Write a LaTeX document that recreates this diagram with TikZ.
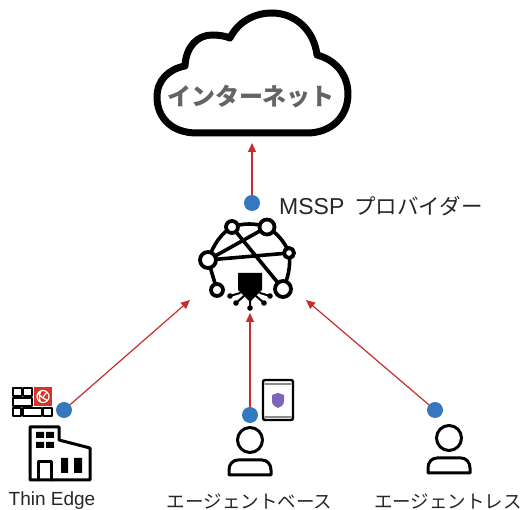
\documentclass[tikz,border=0pt]{standalone}
\usepackage{fontspec}
\setmainfont{Noto Sans CJK JP}
\newfontfamily\latinfont{Liberation Sans}
\usetikzlibrary{arrows.meta}
\definecolor{dotblue}{RGB}{52,120,192}
\definecolor{arrowred}{RGB}{200,44,44}
\definecolor{chipred}{RGB}{214,52,40}
\definecolor{textgray}{RGB}{100,100,100}
\definecolor{shieldpurple}{RGB}{128,98,184}
\tikzset{
	bluedot/.style={circle,fill=dotblue,minimum size=16pt,inner sep=0pt},
	redarrow/.style={draw=arrowred,line width=1.2pt,-{Triangle[length=9pt,width=8pt]}},
	hub/.style={circle,draw=black,line width=3.8pt,fill=white,inner sep=0pt},
	icon/.style={line width=3pt,line join=round,line cap=round},
	tag/.style={inner sep=0pt,font=\fontsize{18.5}{21}\selectfont,text=black!85},
	thinbox/.style={draw=black,line width=1.2pt,fill=white}
}
\newcommand{\personicon}[2]{
	\draw[icon] (#1,#2) circle (12.5);
	\draw[icon] (#1-21,#2+35) -- ++(0,-5) .. controls (#1-21,#2+24) and (#1-17,#2+20) .. (#1-12,#2+20) -- (#1+12,#2+20) .. controls (#1+17,#2+20) and (#1+21,#2+24) .. (#1+21,#2+30) -- (#1+21,#2+35) -- cycle;
}
\begin{document}
\begin{tikzpicture}[x=1pt,y=-1pt,line join=round,line cap=round]
	\useasboundingbox (0,0) rectangle (523,510);
	% cloud
	\draw[line width=7pt,fill=white] (197,133) .. controls (172,133) and (157,118) .. (157,97) .. controls (157,80) and (169,69) .. (185,66) .. controls (186,46) and (198,35) .. (212,35) .. controls (219,35) and (225,36) .. (230,38) .. controls (238,22) and (254,13) .. (272,13) .. controls (295,13) and (314,30) .. (317,55) .. controls (336,60) and (348,75) .. (348,94) .. controls (348,117) and (331,133) .. (307,133) -- cycle;
	\node[inner sep=0pt,text=textgray,font=\bfseries\fontsize{24}{26}\selectfont] (inet) at (251,97) {インターネット};
	% network
	\draw[line width=3.6pt] (208,260) .. controls (214,243) and (222,233) .. (232,227) (232,227) .. controls (243,223) and (255,223) .. (267,227) (208,260) -- (267,227) (232,227) -- (283,289) (208,260) -- (289,253) (267,227) .. controls (277,233) and (285,242) .. (289,253) (289,253) .. controls (291,266) and (288,278) .. (283,289) (208,260) -- (217,290);
	\node[hub,minimum size=12pt] (n1) at (232,227) {};
	\node[hub,minimum size=15pt] (n2) at (267,227) {};
	\node[hub,minimum size=10pt] (n3) at (289,253) {};
	\node[hub,minimum size=16pt] (n4) at (208,260) {};
	\node[hub,minimum size=12pt] (n5) at (217,290) {};
	\node[hub,minimum size=16pt] (n6) at (283,289) {};
	\fill (238,273) -- (262,273) -- (262,290) -- (250,302) -- (238,290) -- cycle;
	\draw[line width=2pt] (230,296) -- (240,293) (236,303) -- (244,296) (250,300) -- (250,308) (264,303) -- (256,296) (270,296) -- (260,293);
	\foreach \x/\y in {230/296,236/303,250/308,264/303,270/296}
		\fill (\x,\y) circle (2.8);
	% building
	\draw[icon] (30,427) -- (59,427) -- (59,440) -- (90,448) -- (90,480) -- (30,480) -- cycle;
	\draw[icon] (38,480) -- (38,462) -- (51,462) -- (51,480);
	\fill (36,432) rectangle (44,438) (46,432) rectangle (54,438) (36,442) rectangle (44,448) (46,442) rectangle (54,448) (61,458) rectangle (68,473) (74,458) rectangle (82,473);
	% appliance
	\draw[thinbox] (13,388) rectangle (22,396) (23.5,388) rectangle (32,396) (13,398) rectangle (32,406) (13,408) rectangle (21,416) (23,408) rectangle (41.5,416) (43,408) rectangle (52,416);
	\fill[chipred] (34,387) rectangle (52,406);
	\draw[white,line width=1.2pt] (43,396.5) circle (6) (38,393) .. controls (41,397) and (44,399) .. (47,400) (41,391) .. controls (39,395) and (39,398) .. (40,401) (47,392) .. controls (45,394) and (44,396) .. (43,398);
	% tablet
	\draw[line width=2.4pt,rounded corners=2pt] (263,380) rectangle (293,420);
	\draw[black!45,line width=2pt] (265,384) -- (291,384) (265,417) -- (291,417);
	\fill[shieldpurple] (272,395) -- (278,393) -- (284,395) -- (284,401) .. controls (284,405) and (281,407) .. (278,408) .. controls (275,407) and (272,405) .. (272,401) -- cycle;
	% users
	\personicon{250}{440}
	\personicon{449}{438}
	% dots and arrows
	\node[bluedot] (mssp) at (252,203) {};
	\node[bluedot] (edge) at (64,410) {};
	\node[bluedot] (agent) at (250,415) {};
	\node[bluedot] (agentless) at (435,410) {};
	\coordinate (inettip) at (252,143);
	\coordinate (edgetip) at (190,300);
	\coordinate (agenttip) at (250,313);
	\coordinate (lesstip) at (306,300);
	\draw[redarrow] (mssp) -- (inettip);
	\draw[redarrow] (edge) -- (edgetip);
	\draw[redarrow] (agent) -- (agenttip);
	\draw[redarrow] (agentless) -- (lesstip);
	% labels
	\node[tag,anchor=west] (msspname) at (279,206) {{\latinfont\fontsize{23}{25}\selectfont MSSP}\hspace{10pt}\fontsize{21.5}{23}\selectfont プロバイダー};
	\node[tag,font=\latinfont\fontsize{19}{21}\selectfont] (edgename) at (52,501) {Thin Edge};
	\node[tag] (agentname) at (249.5,501) {エージェントベース};
	\node[tag] (lessname) at (448,501) {エージェントレス};
\end{tikzpicture}
\end{document}
